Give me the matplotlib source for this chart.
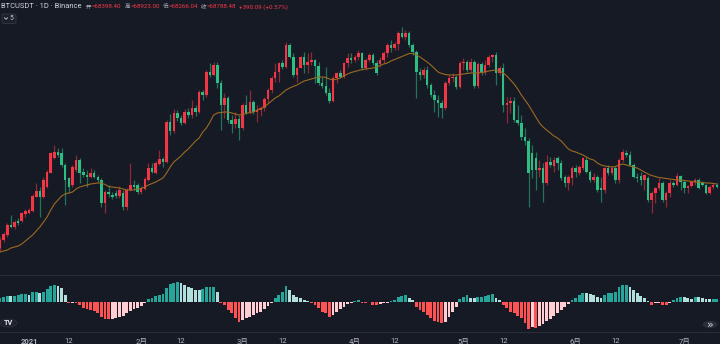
import matplotlib.pyplot as plt
import numpy as np
from matplotlib.patches import Rectangle, Circle, FancyBboxPatch
from matplotlib.lines import Line2D

# ---- daily candles, prices in thousand USDT ----
open_k = [20.4, 22.0, 23.0, 25.0, 24.6, 25.8, 25.8, 27.2, 27.4, 27.8,
          30.6, 31.8, 30.6, 32.6, 35.4, 38.4, 39.6, 39.4, 37.0, 34.4,
          33.0, 36.0, 38.0, 35.6, 35.0, 34.6, 35.4, 34.6, 34.0, 29.4,
          31.6, 31.0, 31.4, 30.8, 31.4, 28.6, 32.0, 33.0, 33.0, 31.6,
          32.2, 34.0, 36.4, 35.4, 37.2, 38.2, 37.6, 45.6, 43.8, 47.4,
          46.4, 45.4, 47.6, 47.0, 48.4, 47.6, 51.6, 51.0, 55.6, 55.0,
          57.0, 53.4, 49.0, 50.4, 46.0, 45.2, 46.2, 44.4, 49.0, 47.4,
          49.6, 47.6, 48.0, 48.4, 50.2, 52.0, 54.4, 55.6, 57.4, 56.6,
          61.0, 58.6, 55.0, 56.4, 58.6, 57.0, 57.6, 58.0, 56.8, 53.4,
          52.8, 51.4, 49.8, 54.4, 55.4, 54.6, 57.4, 58.4, 58.0, 58.6,
          59.4, 56.4, 58.0, 59.0, 57.4, 57.2, 58.0, 59.4, 61.0, 60.4,
          61.2, 63.4, 62.6, 63.4, 61.0, 59.6, 55.6, 55.0, 56.0, 53.0,
          51.0, 50.0, 49.4, 48.4, 53.4, 54.4, 54.6, 52.6, 57.4, 57.6,
          56.0, 57.6, 52.8, 57.2, 55.6, 57.0, 58.6, 59.0, 55.4, 56.4,
          49.0, 49.4, 49.8, 46.0, 45.4, 42.6, 41.8, 39.4, 38.4, 36.0,
          36.4, 33.4, 37.6, 36.8, 38.4, 37.4, 34.6, 33.4, 34.4, 36.4,
          35.4, 36.4, 38.0, 35.6, 34.0, 34.6, 32.4, 32.0, 36.4, 35.4,
          36.4, 34.0, 38.0, 39.4, 39.0, 37.0, 34.6, 34.8, 34.0, 34.4,
          30.0, 31.4, 32.4, 33.4, 30.0, 31.4, 33.4, 33.0, 34.8, 33.6,
          32.4, 32.8, 33.6, 34.0, 33.4, 33.0, 31.4, 32.6, 33.0]
high_k = [22.6, 23.6, 25.4, 27.0, 26.0, 26.4, 27.6, 28.2, 28.4, 31.2,
          33.4, 32.6, 34.6, 36.0, 39.6, 41.0, 40.4, 40.4, 37.4, 34.6,
          37.0, 39.0, 38.4, 36.4, 36.0, 36.4, 36.0, 35.0, 34.4, 32.0,
          33.0, 31.6, 32.0, 32.8, 32.0, 32.4, 37.4, 34.0, 33.4, 32.8,
          34.6, 37.4, 37.4, 37.8, 40.0, 38.6, 46.0, 47.2, 48.2, 48.0,
          47.0, 48.2, 48.4, 50.0, 49.0, 52.0, 52.0, 56.0, 57.4, 57.6,
          57.6, 54.0, 51.4, 50.8, 47.0, 47.6, 47.0, 49.4, 51.0, 52.0,
          50.0, 49.0, 48.8, 50.6, 52.4, 54.8, 57.4, 57.6, 58.0, 61.6,
          61.4, 59.4, 56.6, 58.8, 59.6, 59.4, 59.6, 58.2, 57.6, 54.6,
          56.6, 52.4, 54.8, 55.6, 56.0, 57.6, 59.4, 59.4, 59.0, 60.0,
          59.6, 58.4, 59.4, 59.4, 58.0, 58.6, 59.8, 61.4, 62.0, 61.6,
          63.8, 64.6, 64.0, 63.8, 61.4, 60.0, 56.4, 56.6, 56.8, 53.4,
          52.0, 51.0, 50.0, 53.8, 55.0, 55.4, 55.0, 57.8, 58.4, 58.0,
          58.4, 58.0, 57.6, 57.6, 58.0, 59.0, 59.2, 59.6, 56.8, 57.4,
          50.6, 50.6, 50.6, 49.0, 47.0, 44.4, 42.4, 41.0, 39.6, 38.0,
          37.4, 39.0, 38.6, 38.6, 38.8, 38.0, 35.0, 35.0, 36.8, 37.0,
          37.0, 38.6, 38.6, 36.0, 35.4, 35.0, 34.6, 36.6, 37.0, 36.8,
          36.8, 38.4, 40.2, 40.0, 39.8, 37.4, 35.4, 35.6, 35.2, 34.8,
          31.8, 32.6, 34.4, 33.8, 31.8, 34.0, 33.8, 35.4, 35.0, 34.0,
          33.0, 34.0, 34.4, 34.4, 33.8, 33.2, 33.0, 33.4, 33.4]
low_k = [19.8, 21.6, 22.6, 24.4, 24.2, 25.0, 25.6, 26.6, 27.2, 27.6,
         30.6, 26.6, 30.4, 32.4, 35.4, 38.2, 38.6, 36.6, 29.0, 31.4,
         32.6, 35.6, 33.4, 34.6, 32.6, 34.4, 34.4, 33.6, 28.6, 27.4,
         30.6, 30.2, 30.4, 30.4, 28.0, 28.0, 31.8, 32.0, 31.2, 31.2,
         32.0, 33.8, 35.4, 35.2, 37.0, 36.6, 37.4, 43.0, 43.4, 45.8,
         45.0, 45.2, 46.4, 46.4, 46.8, 47.4, 50.0, 50.6, 54.6, 54.8,
         52.4, 44.0, 46.4, 45.4, 43.4, 44.4, 42.0, 44.0, 47.2, 47.2,
         47.2, 45.6, 46.8, 47.8, 49.4, 51.4, 53.6, 53.6, 56.2, 56.4,
         58.4, 54.6, 53.6, 56.4, 55.4, 55.4, 57.0, 53.4, 53.0, 52.4,
         51.0, 49.4, 49.6, 53.4, 54.4, 54.4, 56.6, 57.4, 57.6, 58.0,
         56.0, 56.0, 57.6, 57.0, 55.0, 56.6, 57.4, 58.6, 59.6, 60.0,
         60.0, 62.4, 62.0, 60.6, 59.0, 50.4, 54.0, 54.4, 52.4, 50.6,
         47.6, 46.6, 46.4, 48.0, 53.0, 53.6, 52.2, 52.4, 56.0, 55.6,
         55.6, 52.4, 52.4, 55.0, 55.0, 56.6, 57.6, 53.0, 55.0, 47.6,
         45.4, 47.4, 45.6, 45.0, 42.0, 41.0, 28.6, 34.4, 32.0, 34.6,
         29.6, 33.0, 36.6, 35.6, 36.0, 34.0, 32.6, 32.0, 33.0, 34.6,
         35.0, 36.0, 35.4, 33.6, 33.6, 31.6, 29.6, 31.4, 35.0, 35.0,
         33.4, 33.4, 37.6, 38.6, 36.8, 34.4, 33.6, 33.0, 32.0, 29.6,
         27.4, 29.4, 32.0, 29.6, 28.6, 30.6, 32.6, 32.8, 32.0, 31.4,
         31.4, 32.6, 33.0, 32.2, 32.8, 31.2, 31.2, 32.2, 32.4]
close_k = [22.0, 23.2, 25.0, 24.6, 25.6, 25.4, 27.4, 27.8, 28.0, 30.8,
           31.8, 30.6, 34.0, 35.6, 39.4, 39.6, 39.0, 37.0, 34.0, 32.6,
           36.6, 38.0, 35.4, 35.0, 34.6, 35.4, 34.6, 34.0, 29.4, 31.6,
           31.2, 30.6, 30.8, 32.0, 28.6, 32.0, 33.0, 32.6, 31.6, 32.4,
           34.2, 36.4, 35.6, 37.4, 38.2, 37.6, 45.6, 43.8, 47.4, 46.4,
           45.4, 47.6, 47.0, 48.4, 47.6, 51.6, 51.0, 55.6, 55.0, 57.0,
           53.4, 49.0, 50.4, 46.0, 45.2, 46.2, 44.4, 49.0, 47.4, 49.6,
           47.6, 48.0, 48.4, 50.2, 52.0, 54.4, 55.6, 57.4, 56.6, 61.0,
           58.6, 55.0, 56.4, 58.6, 57.0, 57.6, 58.0, 56.8, 53.4, 52.8,
           51.4, 49.8, 54.4, 55.4, 54.6, 57.4, 58.4, 58.0, 58.6, 59.4,
           56.4, 58.0, 59.0, 57.4, 55.4, 58.0, 59.4, 61.0, 60.4, 61.2,
           63.4, 62.6, 63.4, 61.0, 59.6, 55.6, 55.0, 56.0, 53.0, 51.0,
           50.0, 49.4, 48.4, 53.4, 54.4, 54.6, 52.6, 57.4, 57.6, 56.0,
           57.6, 52.8, 57.2, 55.6, 57.0, 58.6, 59.0, 55.4, 56.4, 49.0,
           49.4, 49.8, 46.0, 45.4, 42.6, 41.8, 35.4, 36.0, 36.0, 36.4,
           33.4, 37.6, 37.0, 38.0, 37.4, 34.4, 33.4, 34.6, 36.4, 35.6,
           36.6, 38.4, 35.6, 34.0, 34.6, 32.0, 32.0, 36.4, 35.4, 36.4,
           34.0, 38.0, 39.6, 39.0, 37.0, 34.6, 34.4, 34.0, 35.0, 30.0,
           31.4, 32.4, 33.4, 30.0, 31.4, 33.4, 33.0, 34.8, 33.6, 32.4,
           32.8, 33.6, 34.0, 32.4, 33.0, 31.4, 32.6, 33.0, 32.6]
# orange moving average overlay (thousand USDT)
ma_k = [19.6, 19.8, 20.0, 20.4, 20.6, 20.8, 21.2, 21.8, 22.4, 23.0,
        23.8, 24.6, 25.6, 26.6, 28.0, 29.2, 30.0, 30.8, 31.2, 31.4,
        31.6, 32.2, 32.6, 32.8, 33.0, 33.2, 33.3, 33.4, 33.4, 33.1,
        32.7, 32.6, 32.5, 32.4, 32.2, 32.0, 32.0, 32.0, 32.2, 32.3,
        32.6, 33.0, 33.3, 33.6, 34.0, 34.4, 35.4, 36.6, 37.6, 38.2,
        38.8, 39.6, 40.2, 41.0, 41.8, 42.4, 43.6, 44.4, 45.6, 47.0,
        47.4, 47.5, 47.6, 47.6, 47.4, 47.2, 47.0, 47.1, 47.3, 47.5,
        47.6, 48.0, 48.2, 48.6, 49.2, 49.8, 50.4, 50.8, 51.4, 52.0,
        52.4, 52.7, 53.0, 53.4, 53.8, 54.0, 54.2, 54.4, 54.6, 54.6,
        54.5, 54.2, 54.0, 54.2, 54.4, 54.8, 55.2, 55.5, 55.7, 55.9,
        56.1, 56.2, 56.3, 56.4, 56.6, 56.9, 57.2, 57.4, 57.8, 58.1,
        58.4, 58.7, 59.0, 59.3, 59.3, 59.0, 58.6, 58.1, 57.6, 57.0,
        56.3, 55.6, 55.3, 55.1, 55.0, 55.0, 55.0, 55.1, 55.2, 55.3,
        55.4, 55.4, 55.4, 55.5, 55.6, 55.8, 55.9, 56.0, 55.8, 55.4,
        54.8, 54.0, 53.2, 52.2, 51.0, 50.0, 49.0, 47.8, 46.6, 45.4,
        44.6, 44.0, 43.4, 42.8, 42.4, 41.8, 41.0, 40.2, 39.8, 39.6,
        39.3, 39.0, 38.6, 38.2, 38.0, 37.4, 37.0, 36.8, 36.7, 36.6,
        36.7, 37.0, 37.2, 37.0, 36.8, 36.6, 36.4, 36.0, 35.6, 35.2,
        34.9, 34.7, 34.5, 34.4, 34.3, 34.2, 34.1, 34.0, 34.0, 33.9,
        33.8, 33.7, 33.6, 33.6, 33.5, 33.4, 33.4, 33.3, 33.2]
# oscillator histogram (USDT)
hist = [330, 500, 570, 570, 580, 630, 730, 740, 700, 930,
        1000, 900, 1000, 1230, 1570, 1670, 1600, 1330, 670, -170,
        -100, -170, -330, -600, -770, -830, -900, -1100, -1500, -1730,
        -1770, -1730, -1670, -1500, -1430, -1100, -900, -770, -670, -430,
        -170, 230, 400, 570, 670, 770, 1330, 1770, 1830, 1930,
        1830, 1670, 1500, 1330, 1200, 1170, 1250, 1430, 1450, 1460,
        1000, -100, -330, -830, -1170, -1670, -2070, -1830, -1670, -1570,
        -1330, -1170, -1000, -770, -430, -100, 330, 670, 1000, 1570,
        1170, 670, 500, 330, 170, 70, -170, -330, -670, -1000,
        -1170, -1500, -1330, -1000, -770, -500, -270, -100, 100, 200,
        -100, -120, -50, -330, -350, -270, -170, -100, 50, 170,
        500, 570, 670, 330, 170, -500, -830, -1000, -1330, -1670,
        -1900, -2070, -2170, -2000, -1500, -1000, -500, 230, 500, 670,
        400, 330, 500, 520, 570, 630, 770, 330, 170, -330,
        -670, -1000, -1170, -1430, -1670, -2100, -2770, -2500, -2600, -2400,
        -2200, -1900, -1700, -1400, -1100, -800, -500, -250, 170, 330,
        670, 900, 830, 770, 670, 500, 330, 670, 830, 900,
        1000, 1500, 1670, 1700, 1500, 1170, 830, 570, 330, 30,
        -330, -170, -100, -330, -350, -170, 170, 330, 500, 430,
        330, 320, 500, 430, 330, 270, 230, 240, 250]

# time axis labels (candle index, text)
tick_pos = [8, 19, 39, 50, 67, 78, 98, 109, 128, 139, 159, 170, 189]
tick_text = ['2021', '12', '2月', '12', '3月', '12', '4月', '12',
             '5月', '12', '6月', '12', '7月']

o = np.array(open_k) * 1000
h = np.array(high_k) * 1000
l = np.array(low_k) * 1000
c = np.array(close_k) * 1000
ma = np.array(ma_k) * 1000
hist = np.array(hist)
x = np.arange(len(o))

bg = '#161a25'
up = '#f23645'
down = '#2ebd85'
grey = '#b2b5be'
fonts = ['Roboto', 'Noto Sans CJK SC', 'DejaVu Sans']

W, H = 720, 344
fig = plt.figure(figsize=(7.2, 3.44), dpi=100, facecolor=bg)


def fy(py):
    return 1 - py / H


ax = fig.add_axes([0, fy(276), 1, 276 / H])
axh = fig.add_axes([0, fy(332), 1, 55 / H])
for a in (ax, axh):
    a.set_facecolor(bg)
    a.set_xlim(-0.01, 198.88)
    a.axis('off')

# candles: red = up, green = down
rising = c >= o
col = np.where(rising, up, down)
ax.vlines(x, l, h, colors=col, linewidth=0.9, alpha=0.55)
body_lo = np.minimum(o, c)
body_h = np.maximum(np.abs(c - o), 180)
ax.bar(x, body_h, bottom=body_lo, width=0.7, color=col, linewidth=0)
ax.plot(x, ma, color='#9c6a22', linewidth=0.8)
ax.set_ylim(14800, 70000)

# histogram colours follow sign and direction
prev = np.concatenate([[0], hist[:-1]])
hcol = np.where(hist >= 0,
                np.where(hist > prev, '#26a69a', '#b2dfdb'),
                np.where(hist < prev, '#ff5252', '#ffcdd2'))
axh.bar(x, hist, width=0.78, color=hcol, linewidth=0)
axh.set_ylim(-3030, 2470)

# pane separators
for py in (275.5, 332.5):
    fig.add_artist(Rectangle((0, fy(py + 0.8)), 1, 1.6 / H,
                             transform=fig.transFigure, color='#2a2e39', lw=0))

# time axis
for p, t in zip(tick_pos, tick_text):
    fig.text((0.04 + 3.62 * p) / W, fy(341), t, color=grey, fontsize=5.5,
             ha='center', va='center', family=fonts,
             fontweight='bold' if t == '2021' else 'normal')

# header legend, pieces laid out one after another
fig.text(1 / W, fy(7), 'BTCUSDT · 1D · Binance', color='#d1d4dc', fontsize=5.4,
         ha='left', va='center', family=fonts)
parts = [('开', grey, 4.0, 0.5), ('=68398.40', up, 4.5, 2.8),
         ('高', grey, 4.0, 0.5), ('=68923.00', up, 4.5, 2.8),
         ('低', grey, 4.0, 0.5), ('=68266.04', up, 4.5, 2.8),
         ('收', grey, 4.0, 0.5), ('=68788.48', up, 4.5, 2.8),
         ('+390.09 (+0.57%)', up, 4.5, 0)]
renderer = fig.canvas.get_renderer()
px = 86
for t, cl, fs, gap in parts:
    txt = fig.text(px / W, fy(7), t, color=cl, fontsize=fs, ha='left',
                   va='center', family=fonts)
    px = txt.get_window_extent(renderer).x1 + gap

# collapsed indicators button
fig.add_artist(FancyBboxPatch((2 / W, fy(23.5)), 14 / W, 9.5 / H,
                              boxstyle='round,pad=0,rounding_size=0.004',
                              transform=fig.transFigure, facecolor='#1c202b',
                              edgecolor='#363a45', lw=0.6))
fig.add_artist(Line2D([4.5 / W, 6 / W, 7.5 / W], [fy(17.8), fy(19.3), fy(17.8)],
                      transform=fig.transFigure, color='#d1d4dc', lw=0.6))
fig.text(11.8 / W, fy(18.8), '5', color='#d1d4dc', fontsize=4.8, ha='center',
         va='center', family=fonts)

# logo and scroll button
fig.add_artist(Circle((8.5 / W, fy(323)), 8.5 / W, transform=fig.transFigure,
                      facecolor='#1e222d', edgecolor='#2a2e39', lw=0.6))
fig.text(8.5 / W, fy(323), 'TV', color='#e8e8ea', fontsize=5.2, ha='center',
         va='center', fontweight='bold', family=fonts)
fig.add_artist(Circle((710 / W, fy(324.5)), 7.5 / W, transform=fig.transFigure,
                      facecolor='#2a2e39', edgecolor='none'))
fig.text(710 / W, fy(325), '»', color='#d1d4dc', fontsize=8, ha='center',
         va='center', family='DejaVu Sans')

fig.savefig('out.png', dpi=100, facecolor=bg)
